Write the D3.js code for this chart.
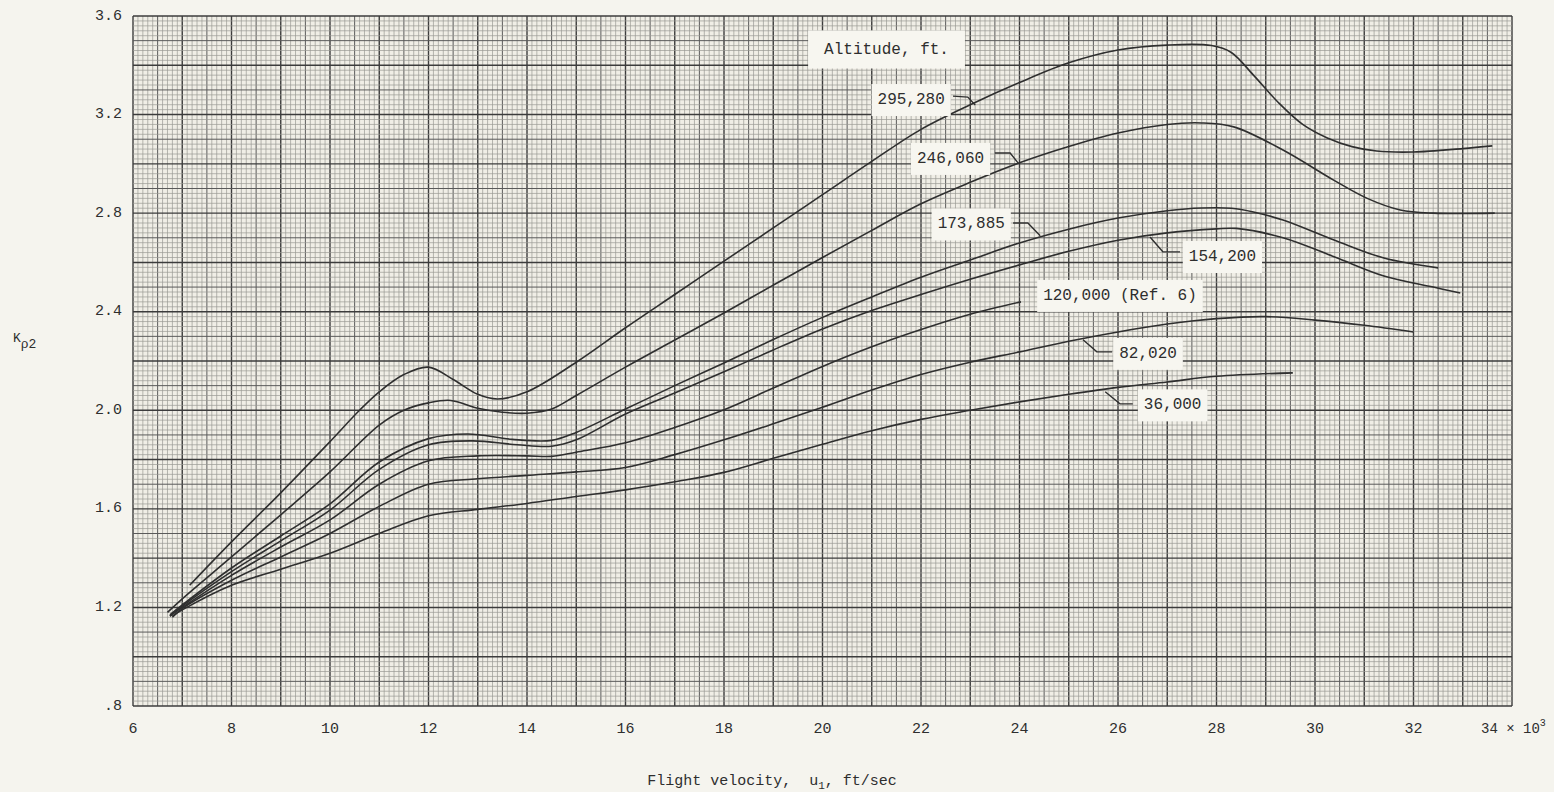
<!DOCTYPE html>
<html>
<head>
<meta charset="utf-8">
<script src="https://cdn.jsdelivr.net/npm/d3@7"></script>
<style>
  body { margin: 0; background: #f5f4ee; }
  svg { display: block; }
  text { font-family: "Liberation Mono", "DejaVu Sans Mono", monospace; fill: #2e2e2e; }
</style>
</head>
<body>
<svg id="chart"></svg>
<script>
// ------------------------------------------------------------- data
const xTicks = [6, 8, 10, 12, 14, 16, 18, 20, 22, 24, 26, 28, 30, 32, 34];
const yTicks = [0.8, 1.2, 1.6, 2.0, 2.4, 2.8, 3.2, 3.6];
const yTickLabels = [".8", "1.2", "1.6", "2.0", "2.4", "2.8", "3.2", "3.6"];

// velocity (x10^3 ft/sec), K_rho2
const alt295280 = [[7.15,1.29],[8,1.466],[9,1.665],[10,1.873],[10.6,2.0],[11,2.075],[11.5,2.145],[12,2.175],[12.5,2.125],[13,2.065],[13.4,2.046],[14,2.075],[15,2.195],[16,2.335],[17,2.47],[18,2.605],[19,2.74],[20,2.875],[21,3.01],[22,3.14],[23,3.24],[24,3.33],[25,3.41],[26,3.462],[27,3.482],[27.9,3.48],[28.3,3.452],[28.75,3.36],[29.25,3.25],[29.75,3.16],[30.25,3.105],[30.75,3.07],[31.25,3.052],[32,3.048],[33,3.062],[33.6,3.073]];
const alt246060 = [[6.7,1.18],[7,1.235],[8,1.405],[9,1.576],[10,1.75],[11,1.94],[11.5,2.0],[12,2.03],[12.45,2.04],[13,2.008],[13.5,1.992],[14,1.988],[14.5,2.005],[15,2.06],[16,2.175],[17,2.285],[18,2.395],[19,2.508],[20,2.62],[21,2.73],[22,2.838],[23,2.925],[24,3.004],[25,3.07],[26,3.125],[27,3.16],[27.7,3.166],[28.35,3.15],[29.35,3.056],[30.37,2.935],[31.06,2.86],[31.73,2.813],[32.4,2.8],[33.65,2.8]];
const alt173885 = [[6.75,1.17],[7,1.21],[8,1.36],[9,1.49],[10,1.62],[11,1.79],[12,1.885],[12.8,1.904],[13.7,1.882],[14.5,1.878],[15,1.91],[16,2.005],[17,2.1],[18,2.192],[19,2.287],[20,2.377],[21,2.46],[22,2.54],[23,2.61],[24,2.679],[25,2.735],[26,2.78],[27,2.81],[27.7,2.821],[28.3,2.82],[28.75,2.805],[29.35,2.772],[30.4,2.69],[31.4,2.618],[32.5,2.578]];
const alt154200 = [[6.75,1.165],[7,1.205],[8,1.345],[9,1.47],[10,1.595],[11,1.76],[12,1.86],[12.9,1.876],[13.8,1.86],[14.5,1.854],[15,1.88],[16,1.985],[17,2.07],[18,2.156],[19,2.245],[20,2.33],[21,2.405],[22,2.47],[23,2.532],[24,2.59],[25,2.645],[26,2.69],[27,2.72],[28,2.736],[28.4,2.738],[29.35,2.7],[30.4,2.622],[31.4,2.545],[32.4,2.5],[32.95,2.476]];
const alt120000 = [[6.75,1.165],[7,1.2],[8,1.33],[9,1.445],[10,1.555],[11,1.7],[12,1.795],[13,1.815],[14,1.815],[14.5,1.813],[15,1.83],[16,1.868],[17,1.93],[18,2.002],[19,2.09],[20,2.178],[21,2.258],[22,2.328],[23,2.39],[24.03,2.44]];
const alt82020 = [[6.8,1.16],[7,1.195],[8,1.31],[9,1.405],[10,1.5],[11,1.61],[12,1.7],[13,1.722],[14,1.736],[15,1.75],[16,1.768],[17,1.82],[18,1.88],[19,1.945],[20,2.012],[21,2.082],[22,2.145],[23,2.195],[24,2.237],[25,2.28],[26,2.318],[27,2.35],[28,2.372],[29,2.38],[30,2.366],[31,2.345],[32,2.318]];
const alt36000 = [[6.8,1.165],[7,1.19],[8,1.29],[9,1.355],[10,1.42],[11,1.5],[12,1.572],[13,1.598],[14,1.622],[15,1.65],[16,1.677],[17,1.71],[18,1.748],[19,1.805],[20,1.862],[21,1.917],[22,1.963],[23,2.0],[24,2.034],[25,2.065],[26,2.093],[27,2.115],[28,2.138],[29.55,2.152]];

const seriesList = [alt295280, alt246060, alt173885, alt154200, alt120000, alt82020, alt36000];
const altitudeLabels = ["295,280", "246,060", "173,885", "154,200", "120,000 (Ref. 6)", "82,020", "36,000"];

// ------------------------------------------------------------- layout
const width = 1554;
const height = 792;
const margin = { left: 133, right: 42, top: 16, bottom: 86 };

const svg = d3.select('#chart').attr('width', width).attr('height', height);
svg.append('rect').attr('width', width).attr('height', height).attr('fill', '#f5f4ee');

const x = d3.scaleLinear().domain([6, 34]).range([margin.left, width - margin.right]);
const y = d3.scaleLinear().domain([0.8, 3.6]).range([height - margin.bottom, margin.top]);

drawGrid();
drawCurves();
drawLabels();
drawAxes();

// ------------------------------------------------------------- grid paper
function drawGrid() {
  const g = svg.append('g');
  g.append('rect')
    .attr('x', x(6)).attr('y', y(3.6))
    .attr('width', x(34) - x(6)).attr('height', y(0.8) - y(3.6))
    .attr('fill', '#f0eee6');

  const style = i => i % 10 === 0 ? ['#3c3c3c', 1.4] : i % 5 === 0 ? ['#5a5a5a', 1.0] : ['#9a9994', 0.7];

  d3.range(0, 281).forEach(i => {
    const [c, w] = style(i);
    const xv = 6 + i / 10;
    g.append('line')
      .attr('x1', x(xv)).attr('x2', x(xv))
      .attr('y1', y(0.8)).attr('y2', y(3.6))
      .attr('stroke', c).attr('stroke-width', w);
  });
  d3.range(0, 141).forEach(i => {
    const [c, w] = style(i);
    const yv = 0.8 + i * 0.02;
    g.append('line')
      .attr('x1', x(6)).attr('x2', x(34))
      .attr('y1', y(yv)).attr('y2', y(yv))
      .attr('stroke', c).attr('stroke-width', w);
  });
}

// ------------------------------------------------------------- curves
function drawCurves() {
  const line = d3.line()
    .x(d => x(d[0]))
    .y(d => y(d[1]))
    .curve(d3.curveCatmullRom.alpha(0.5));

  svg.append('g').selectAll('path')
    .data(seriesList)
    .enter().append('path')
    .attr('d', line)
    .attr('fill', 'none')
    .attr('stroke', '#2f2f2f')
    .attr('stroke-width', 1.6);
}

// ------------------------------------------------------------- labels
function drawLabels() {
  // box centre and leader line, in data units
  const placements = [
    { c: [21.80, 3.259], lead: [[22.65, 3.275], [22.95, 3.271], [23.10, 3.239]] },
    { c: [22.60, 3.020], lead: [[23.50, 3.044], [23.81, 3.044], [23.97, 3.004]] },
    { c: [23.02, 2.754], lead: [[23.87, 2.760], [24.17, 2.760], [24.42, 2.708]] },
    { c: [28.12, 2.622], lead: [[27.26, 2.643], [26.91, 2.643], [26.65, 2.703]] },
    { c: [26.04, 2.464], lead: [] },
    { c: [26.61, 2.229], lead: [[25.88, 2.237], [25.57, 2.237], [25.29, 2.286]] },
    { c: [27.11, 2.020], lead: [[26.30, 2.026], [26.04, 2.026], [25.74, 2.075]] }
  ];

  const g = svg.append('g');
  const leader = d3.line().x(d => x(d[0])).y(d => y(d[1]));

  placements.forEach((p, i) => {
    if (p.lead.length) {
      g.append('path').attr('d', leader(p.lead))
        .attr('fill', 'none').attr('stroke', '#2f2f2f').attr('stroke-width', 1.4);
    }
    addBox(g, altitudeLabels[i], x(p.c[0]), y(p.c[1]), 6, 7);
  });

  addBox(g, 'Altitude, ft.', x(21.30), y(3.464), 16, 10);
}

function addBox(g, label, cx, cy, padX, padY) {
  const t = g.append('text')
    .attr('x', cx).attr('y', cy)
    .attr('text-anchor', 'middle')
    .attr('dominant-baseline', 'central')
    .style('font-size', '16px')
    .text(label);
  const b = t.node().getBBox();
  g.insert('rect', () => t.node())
    .attr('x', b.x - padX).attr('y', b.y - padY)
    .attr('width', b.width + 2 * padX).attr('height', b.height + 2 * padY)
    .attr('fill', '#f7f6f0');
}

// ------------------------------------------------------------- axes text
function drawAxes() {
  const g = svg.append('g');

  g.selectAll('.ytick')
    .data(yTicks)
    .enter().append('text')
    .attr('class', 'ytick')
    .attr('x', x(6) - 11)
    .attr('y', d => y(d))
    .attr('text-anchor', 'end')
    .attr('dominant-baseline', 'central')
    .style('font-size', '15px')
    .text((d, i) => yTickLabels[i]);

  g.selectAll('.xtick')
    .data(xTicks.slice(0, -1))
    .enter().append('text')
    .attr('class', 'xtick')
    .attr('x', d => x(d))
    .attr('y', y(0.8) + 27)
    .attr('text-anchor', 'middle')
    .style('font-size', '15px')
    .text(d => d);

  const last = g.append('text')
    .attr('x', 1481)
    .attr('y', y(0.8) + 27)
    .style('font-size', '14px')
    .text('34 × 10');
  last.append('tspan').attr('dy', -7).style('font-size', '10px').text('3');

  const xt = g.append('text')
    .attr('x', 772).attr('y', 785)
    .attr('text-anchor', 'middle')
    .style('font-size', '15px')
    .attr('xml:space', 'preserve')
    .text('Flight velocity,  u');
  xt.append('tspan').attr('dy', 4).style('font-size', '11px').text('1');
  xt.append('tspan').attr('dy', -4).text(', ft/sec');

  const yt = g.append('text')
    .attr('x', 13).attr('y', 342)
    .style('font-size', '13px')
    .text('K');
  yt.append('tspan').attr('dy', 6).style('font-size', '13px').text('ρ2');
}
</script>
</body>
</html>
